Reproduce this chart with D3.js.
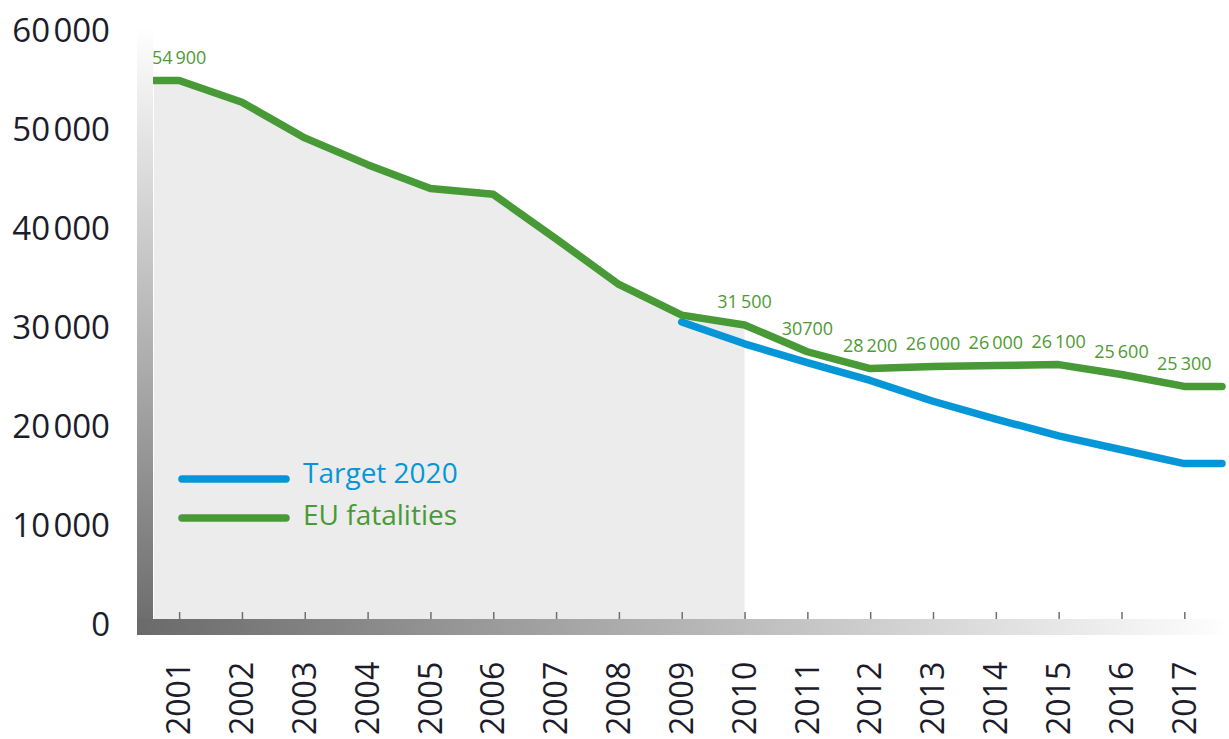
<!DOCTYPE html>
<html>
<head>
<meta charset="utf-8">
<script src="https://cdn.jsdelivr.net/npm/d3@7"></script>
<style>
  html, body { margin: 0; padding: 0; background: #ffffff; }
  svg { display: block; font-family: "Open Sans", "Noto Sans", sans-serif; }
</style>
</head>
<body>
<svg id="chart" width="1229" height="739"></svg>
<script>
// ---------------- data ----------------
const years = [2001, 2002, 2003, 2004, 2005, 2006, 2007, 2008, 2009,
               2010, 2011, 2012, 2013, 2014, 2015, 2016, 2017];
// EU fatalities
const fatalities = [54900, 52700, 49100, 46400, 44000, 43400, 38900, 34300, 31200,
                    30200, 27500, 25800, 26000, 26100, 26200, 25200, 24000];
// Target 2020 trajectory
const targetYears = [2009, 2010, 2011, 2012, 2013, 2014, 2015, 2016, 2017];
const target = [30500, 28300, 26400, 24600, 22500, 20700, 19000, 17600, 16200];
// printed value labels
const labelYears = [2001, 2010, 2011, 2012, 2013, 2014, 2015, 2016, 2017];
const labelTexts = ["54\u2009900", "31\u2009500", "30700", "28\u2009200", "26\u2009000",
                    "26\u2009000", "26\u2009100", "25\u2009600", "25\u2009300"];
const yTicks = [0, 10000, 20000, 30000, 40000, 50000, 60000];
const yTickLabels = ["0", "10\u200A000", "20\u200A000", "30\u200A000", "40\u200A000", "50\u200A000", "60\u200A000"];
const shadeEndYear = 2010;
const seriesNames = ["Target 2020", "EU fatalities"];

// ---------------- styles / layout ----------------
const GREEN = "#479a36", BLUE = "#0596d8", LABEL_GREEN = "#4f9a33";
const svg = d3.select("#chart");
const x = d3.scaleLinear().domain([2000.6, 2017.6]).range([154, 1222]);
const y = d3.scaleLinear().domain([0, 60000]).range([624, 30]);
const barTop = 619, barH = 16, vBarX = 137, vBarW = 16, vBarTop = 27;

const defs = svg.append("defs");
const gv = defs.append("linearGradient").attr("id", "gv").attr("x1", 0).attr("y1", 0).attr("x2", 0).attr("y2", 1);
gv.append("stop").attr("offset", "0%").attr("stop-color", "#ffffff");
gv.append("stop").attr("offset", "100%").attr("stop-color", "#6a6a6a");
const gh = defs.append("linearGradient").attr("id", "gh").attr("x1", 0).attr("y1", 0).attr("x2", 1).attr("y2", 0);
gh.append("stop").attr("offset", "0%").attr("stop-color", "#6a6a6a");
gh.append("stop").attr("offset", "97%").attr("stop-color", "#fafafa");
gh.append("stop").attr("offset", "100%").attr("stop-color", "#ffffff");

// points including plot-edge extension of first/last values
const [d0, d1] = x.domain();
const fatalPts = [[d0, fatalities[0]]].concat(years.map((yr, i) => [yr, fatalities[i]]))
                 .concat([[d1, fatalities[fatalities.length - 1]]]);
const targetPts = targetYears.map((yr, i) => [yr, target[i]])
                 .concat([[d1, target[target.length - 1]]]);

// shaded area under the line up to 2010
const areaPts = fatalPts.filter(p => p[0] <= shadeEndYear);
svg.append("path")
  .datum(areaPts)
  .attr("fill", "#ececec")
  .attr("d", d3.area().x(d => x(d[0])).y0(y(0)).y1(d => y(d[1])));

// lines
const line = d3.line().x(d => x(d[0])).y(d => y(d[1]));
svg.append("path").datum(targetPts)
  .attr("fill", "none").attr("stroke", BLUE).attr("stroke-width", 7.5)
  .attr("stroke-linecap", "round").attr("stroke-linejoin", "round")
  .attr("d", line);
svg.append("path").datum(fatalPts)
  .attr("fill", "none").attr("stroke", GREEN).attr("stroke-width", 7.5)
  .attr("stroke-linecap", "round").attr("stroke-linejoin", "round")
  .attr("d", line);

// axis bars
svg.append("rect").attr("x", vBarX).attr("y", vBarTop).attr("width", vBarW)
  .attr("height", barTop + barH - vBarTop).attr("fill", "url(#gv)");
svg.append("rect").attr("x", vBarX).attr("y", barTop).attr("width", 1229 - vBarX)
  .attr("height", barH).attr("fill", "url(#gh)");

// x ticks
const xAxis = svg.append("g").attr("transform", `translate(0,${barTop})`)
  .call(d3.axisBottom(x).tickValues(years).tickSize(-7).tickFormat(""));
xAxis.select(".domain").remove();
xAxis.selectAll(".tick line").attr("stroke", "#6f6f6f").attr("stroke-width", 1.5);

// year labels (rotated)
svg.append("g").selectAll("text").data(years).join("text")
  .attr("transform", d => `translate(${x(d)},735) rotate(-90)`)
  .attr("dy", "0.35em")
  .attr("text-anchor", "start")
  .attr("font-size", 32)
  .attr("fill", "#1c1c2a")
  .text(d => String(d));

// y labels
const yAxis = svg.append("g").attr("transform", "translate(113,0)")
  .call(d3.axisLeft(y).tickValues(yTicks).tickSize(0).tickPadding(3)
        .tickFormat((d, i) => yTickLabels[i]));
yAxis.select(".domain").remove();
yAxis.selectAll("text").attr("font-size", 33).attr("fill", "#1c1c2a")
  .attr("font-family", "'Open Sans', sans-serif").attr("dy", "0.35em");

// value labels
const valueAt = yr => fatalities[years.indexOf(yr)];
svg.append("g").selectAll("text").data(labelYears).join("text")
  .attr("x", d => x(d))
  .attr("y", d => y(valueAt(d)) - 23)
  .attr("dy", "0.35em")
  .attr("text-anchor", "middle")
  .attr("font-size", 18)
  .attr("fill", LABEL_GREEN)
  .text((d, i) => labelTexts[i]);

// legend
const legend = svg.append("g");
const legColors = [BLUE, GREEN];
const legY = [479, 518];
const legTextY = [483, 525];
seriesNames.forEach((name, i) => {
  legend.append("line").attr("x1", 182).attr("x2", 286)
    .attr("y1", legY[i]).attr("y2", legY[i])
    .attr("stroke", legColors[i]).attr("stroke-width", 7.5).attr("stroke-linecap", "round");
  legend.append("text").attr("x", 303).attr("y", legTextY[i])
    .attr("font-size", 28).attr("fill", legColors[i]).text(name);
});
</script>
</body>
</html>
